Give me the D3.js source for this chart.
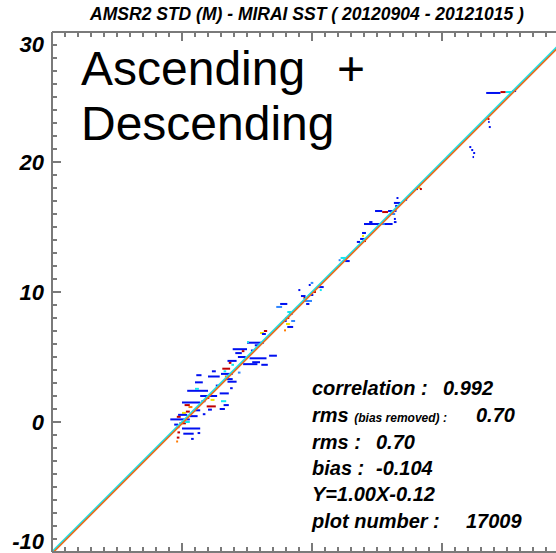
<!DOCTYPE html>
<html>
<head>
<meta charset="utf-8">
<script src="https://cdn.jsdelivr.net/npm/d3@7"></script>
<style>
  html, body { margin: 0; padding: 0; background: #fff; }
  svg { display: block; }
  text { font-family: "Liberation Sans", Arial, Helvetica, sans-serif; }
</style>
</head>
<body>
<svg id="chart" width="556" height="553"></svg>
<script>
// Axis ranges and ticks (deg C)
const xDomain = [-10, 30];
const yDomain = [-10, 30];
const yTickLabels = [30, 20, 10, 0, -10];
const majorStep = 10;
const minorStep = 1;

// Matchup density bins drawn as short horizontal runs:
// [x start, x end, y, density level 0..5]
const runs = [
  // ~25 C
  [23.4, 24.5, 25.31, 0], [24.5, 24.9, 25.38, 5], [24.9, 25.5, 25.38, 2], [25.4, 25.7, 25.46, 0],
  // ~21-23 C
  [23.5, 23.65, 23.31, 5], [23.55, 23.65, 23.08, 0], [23.6, 23.75, 22.69, 0],
  [22.1, 22.25, 21.15, 0], [22.25, 22.4, 20.92, 0], [22.4, 22.55, 20.69, 0], [22.35, 22.45, 20.38, 0],
  // ~18 C
  [18.2, 18.35, 18.0, 3], [18.3, 18.45, 17.92, 5], [18.0, 18.15, 17.92, 0], [17.2, 17.3, 17.1, 0],
  // ~16 C
  [16.5, 16.65, 17.23, 0], [16.3, 16.8, 16.85, 0], [16.4, 16.6, 16.62, 0],
  [14.85, 15.4, 16.23, 0], [15.4, 15.85, 16.15, 5], [15.85, 16.5, 16.23, 0], [16.1, 16.4, 16.0, 1],
  [16.3, 16.45, 15.62, 0], [16.3, 16.5, 15.38, 0],
  [14.0, 16.2, 15.23, 0], [15.3, 15.6, 15.23, 1], [14.4, 14.65, 15.38, 0],
  // ~14 C
  [13.85, 14.15, 14.54, 0], [13.85, 14.0, 14.31, 3], [13.7, 14.15, 14.08, 0], [14.0, 14.15, 13.92, 5], [13.45, 13.7, 13.85, 0],
  // ~12.5 C
  [12.2, 12.6, 12.62, 2], [12.55, 12.9, 12.38, 0], [12.05, 12.2, 12.45, 1],
  // ~10 C
  [9.75, 9.9, 10.54, 0], [10.45, 10.9, 10.38, 0], [10.6, 10.75, 10.15, 2], [10.0, 10.3, 10.0, 5],
  [9.15, 9.5, 9.69, 0], [9.35, 9.6, 9.54, 5], [9.75, 10.1, 9.77, 0], [9.3, 10.0, 9.31, 1],
  [9.55, 9.8, 9.08, 0], [8.95, 9.1, 10.15, 0], [9.9, 10.1, 10.7, 1],
  // ~8 C
  [7.55, 8.1, 9.08, 0], [7.25, 7.7, 8.85, 1], [8.1, 8.4, 8.46, 2], [8.25, 8.5, 8.31, 0],
  [7.95, 8.25, 8.0, 5], [7.85, 8.05, 7.77, 0], [8.0, 8.3, 7.54, 3], [8.1, 8.55, 7.31, 0], [8.4, 8.7, 7.77, 1],
  // ~6.5 C
  [6.0, 6.3, 6.85, 3], [6.15, 6.45, 6.77, 0], [6.3, 6.55, 7.0, 5], [7.85, 8.0, 7.05, 4],
  // lower cluster, 4-6 C
  [5.0, 6.3, 6.1, 0], [5.0, 5.15, 6.15, 2], [5.6, 6.0, 5.9, 0],
  [3.9, 5.0, 5.6, 0], [4.1, 4.6, 5.3, 0], [4.3, 4.9, 5.0, 0], [4.6, 4.8, 5.45, 5],
  [5.2, 6.5, 4.9, 0], [5.4, 6.0, 4.6, 0], [6.7, 7.3, 5.1, 0], [6.1, 6.6, 4.4, 0],
  [3.5, 4.2, 4.7, 0], [3.6, 3.8, 4.55, 5], [3.8, 4.0, 4.4, 2], [4.7, 5.8, 4.45, 0],
  [5.3, 5.5, 5.5, 0], [4.3, 4.5, 3.8, 1],
  // 2-4 C
  [3.1, 3.7, 4.1, 5], [3.2, 3.4, 3.9, 2], [3.0, 3.9, 3.7, 0], [3.3, 3.6, 3.5, 4], [3.4, 3.9, 3.3, 0],
  [2.0, 2.9, 3.5, 0], [1.0, 1.6, 3.05, 0], [3.5, 4.2, 3.1, 0], [1.1, 1.5, 3.6, 0], [2.3, 2.6, 3.9, 0],
  [0.4, 2.0, 2.4, 0], [1.0, 1.3, 2.55, 2], [2.6, 2.9, 2.8, 0], [3.7, 3.9, 2.6, 0],
  [1.4, 2.7, 2.0, 0], [1.8, 2.1, 1.85, 5], [2.2, 2.5, 1.7, 3], [1.5, 1.8, 1.6, 0],
  [2.9, 3.6, 2.2, 0], [3.0, 3.4, 1.6, 2], [3.2, 3.6, 1.3, 0], [2.9, 3.3, 1.0, 0],
  // 0-2 C
  [0.0, 1.4, 1.5, 0], [0.2, 0.6, 1.3, 5], [0.5, 0.8, 1.15, 4], [0.9, 1.4, 0.9, 0], [0.3, 0.6, 0.8, 5], [0.0, 0.3, 0.7, 3],
  [1.9, 2.6, 1.2, 5], [2.0, 2.3, 0.95, 0], [1.6, 1.8, 0.6, 0],
  [-0.9, 0.6, 0.2, 0], [-0.4, -0.1, 0.4, 5], [-0.3, 0.4, 0.55, 0], [0.6, 1.2, 0.45, 0],
  [-0.2, 0.3, -0.1, 5], [0.2, 0.6, 0.0, 2], [-0.6, -0.3, -0.2, 0],
  // below 0 C
  [-0.4, -0.2, -0.4, 5], [-0.35, -0.15, -0.8, 5], [-0.4, -0.2, -1.2, 5], [-0.45, -0.3, -1.5, 4],
  [0.0, 1.4, -0.5, 0], [0.1, 0.9, -0.9, 0], [1.2, 1.4, -0.85, 0], [0.7, 0.9, -1.3, 0]
];
const levelColors = ["#0010f0", "#2f86ff", "#10e6f0", "#f2e200", "#ff7a00", "#c00000"];

// Statistics shown in the panel
const statCorrelation = "0.992";
const statRmsBiasRemoved = "0.70";
const statRms = "0.70";
const statBias = "-0.104";
const fitSlope = 1.00;
const fitIntercept = -0.12;
const plotNumber = "17009";

const svg = d3.select("#chart");
const W = 556, H = 553;
const x = d3.scaleLinear().domain(xDomain).range([52, 572]);
const y = d3.scaleLinear().domain(yDomain).range([552, 32]);

svg.append("defs").append("clipPath").attr("id", "plotclip")
  .append("rect").attr("x", x(xDomain[0])).attr("y", y(yDomain[1]))
  .attr("width", W - x(xDomain[0])).attr("height", y(yDomain[0]) - y(yDomain[1]));

// Title
svg.append("text")
  .attr("x", 307).attr("y", 20)
  .attr("text-anchor", "middle")
  .attr("font-size", 17.5).attr("font-weight", "bold").attr("font-style", "italic")
  .text("AMSR2 STD (M) - MIRAI SST ( 20120904 - 20121015 )");

// Density runs
const plot = svg.append("g").attr("clip-path", "url(#plotclip)");
plot.selectAll("rect.run").data(runs).join("rect")
  .attr("class", "run")
  .attr("x", d => x(d[0]))
  .attr("y", d => y(d[2]) - 1)
  .attr("width", d => Math.max(1.5, x(d[1]) - x(d[0])))
  .attr("height", 2)
  .attr("fill", d => levelColors[d[3]]);

// 1:1 line and regression line
plot.append("line")
  .attr("x1", x(xDomain[0])).attr("y1", y(xDomain[0]))
  .attr("x2", x(xDomain[1])).attr("y2", y(xDomain[1]))
  .attr("stroke", "#1fe3e8").attr("stroke-width", 2);
plot.append("line")
  .attr("x1", x(xDomain[0])).attr("y1", y(fitSlope * xDomain[0] + fitIntercept))
  .attr("x2", x(xDomain[1])).attr("y2", y(fitSlope * xDomain[1] + fitIntercept))
  .attr("stroke", "#ec6a1c").attr("stroke-width", 1.6);

// Axes frame with inward ticks
const axisColor = "#7a7a7a";
const frame = svg.append("g").attr("stroke", axisColor).attr("stroke-width", 1.2).attr("shape-rendering", "crispEdges");
const x0 = x(xDomain[0]), yTop = y(yDomain[1]), yBot = y(yDomain[0]);
frame.append("line").attr("x1", x0).attr("x2", x0).attr("y1", yTop).attr("y2", yBot);
frame.append("line").attr("x1", x0).attr("x2", W).attr("y1", yTop).attr("y2", yTop);
frame.append("line").attr("x1", x0).attr("x2", W).attr("y1", yBot).attr("y2", yBot);

const allTicks = d3.range(xDomain[0], xDomain[1] + 0.001, minorStep);
const isMajor = v => Math.abs(v % majorStep) < 1e-9;
const tickLen = v => isMajor(v) ? 9 : 5;
frame.selectAll("line.tb").data(allTicks.filter(v => x(v) < W)).join("line")
  .attr("class", "tb")
  .attr("x1", d => x(d)).attr("x2", d => x(d))
  .attr("y1", yBot).attr("y2", d => yBot - tickLen(d));
frame.selectAll("line.tt").data(allTicks.filter(v => x(v) < W)).join("line")
  .attr("class", "tt")
  .attr("x1", d => x(d)).attr("x2", d => x(d))
  .attr("y1", yTop).attr("y2", d => yTop + tickLen(d));
frame.selectAll("line.tl").data(d3.range(yDomain[0], yDomain[1] + 0.001, minorStep)).join("line")
  .attr("class", "tl")
  .attr("x1", x0).attr("x2", d => x0 + tickLen(d))
  .attr("y1", d => y(d)).attr("y2", d => y(d));

// Left tick labels (kept inside the frame at the ends)
svg.selectAll("text.yl").data(yTickLabels).join("text")
  .attr("class", "yl")
  .attr("x", 44)
  .attr("y", d => Math.min(Math.max(y(d), yTop + 12), yBot - 11))
  .attr("dy", "0.36em")
  .attr("text-anchor", "end")
  .attr("font-size", 22).attr("font-weight", "bold").attr("font-style", "italic")
  .text(d => d);

// Orbit annotation
svg.append("text").attr("x", 81).attr("y", 85).attr("font-size", 48).text("Ascending");
svg.append("text").attr("x", 337).attr("y", 85).attr("font-size", 48).text("+");
svg.append("text").attr("x", 81).attr("y", 140).attr("font-size", 48).text("Descending");

// Statistics panel
const stats = svg.append("g").attr("font-weight", "bold").attr("font-style", "italic").attr("font-size", 20);
const lx = 312;
const rows = [395, 422, 449, 475, 501, 528];
stats.append("text").attr("x", lx).attr("y", rows[0]).text("correlation :");
stats.append("text").attr("x", 443).attr("y", rows[0]).text(statCorrelation);
const r2 = stats.append("text").attr("x", lx).attr("y", rows[1]);
r2.append("tspan").text("rms ");
r2.append("tspan").attr("font-size", 12).text("(bias removed) :");
stats.append("text").attr("x", 476).attr("y", rows[1]).text(statRmsBiasRemoved);
stats.append("text").attr("x", lx).attr("y", rows[2]).text("rms :");
stats.append("text").attr("x", 376).attr("y", rows[2]).text(statRms);
stats.append("text").attr("x", lx).attr("y", rows[3]).text("bias :");
stats.append("text").attr("x", 376).attr("y", rows[3]).text(statBias);
stats.append("text").attr("x", lx).attr("y", rows[4])
  .text(`Y=${fitSlope.toFixed(2)}X${fitIntercept < 0 ? "-" : "+"}${Math.abs(fitIntercept).toFixed(2)}`);
stats.append("text").attr("x", lx).attr("y", rows[5]).text("plot number :");
stats.append("text").attr("x", 466).attr("y", rows[5]).text(plotNumber);
</script>
</body>
</html>
